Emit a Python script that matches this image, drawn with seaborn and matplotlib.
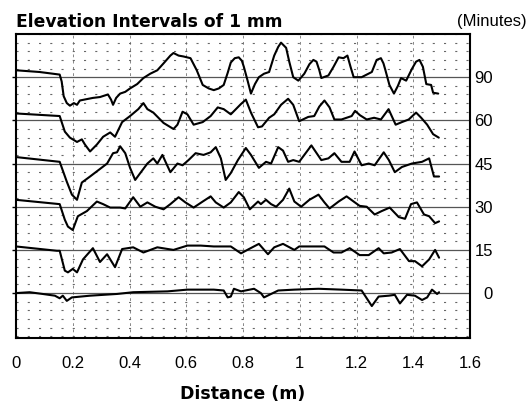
import pandas as pd
import seaborn as sns
import matplotlib.pyplot as plt
from matplotlib.ticker import MultipleLocator

# elevation profiles (mm relative to each baseline) vs distance (m)
minutes = [0, 15, 30, 45, 60, 90]
offsets = [0, 5, 10, 15, 20, 25]

x_90 = [0, 0.083, 0.154, 0.161, 0.168, 0.179, 0.190, 0.204, 0.215, 0.225, 0.271, 0.296, 0.324, 0.335,
        0.342, 0.353, 0.367, 0.385, 0.402, 0.427, 0.449, 0.473, 0.498, 0.520, 0.544, 0.555, 0.573, 0.590,
        0.615, 0.637, 0.658, 0.679, 0.697, 0.715, 0.732, 0.746, 0.757, 0.771, 0.785, 0.796, 0.803, 0.817,
        0.828, 0.842, 0.856, 0.874, 0.892, 0.910, 0.924, 0.934, 0.952, 0.963, 0.977, 0.995, 1.016, 1.034,
        1.048, 1.059, 1.069, 1.076, 1.101, 1.119, 1.137, 1.154, 1.168, 1.179, 1.190, 1.218, 1.236, 1.254,
        1.271, 1.286, 1.295, 1.302, 1.316, 1.332, 1.346, 1.357, 1.375, 1.396, 1.410, 1.422, 1.434, 1.446,
        1.463, 1.470, 1.488]
y_90 = [0.8, 0.6, 0.3, -0.5, -2.2, -3.0, -3.3, -3.0, -3.2, -2.7, -2.4, -2.3, -2.0, -2.6,
        -3.2, -2.4, -1.9, -1.7, -1.3, -0.8, -0.1, 0.4, 0.8, 1.6, 2.5, 2.8, 2.5, 2.4,
        2.2, 0.8, -0.9, -1.3, -1.5, -1.3, -0.9, 0.5, 1.7, 2.2, 2.3, 1.9, 1.2, -0.5,
        -1.9, -0.8, 0.0, 0.4, 0.6, 2.5, 3.5, 4.0, 3.4, 1.8, 0.0, -0.4, 0.4, 1.5,
        2.0, 1.8, 0.8, -0.1, 0.2, 1.2, 2.3, 2.2, 2.5, 1.2, 0.0, 0.0, 0.3, 0.6,
        2.0, 2.2, 1.6, 0.8, -0.9, -1.9, -1.0, -0.1, -0.4, 1.0, 1.8, 2.0, 1.2, -0.8,
        -0.9, -1.8, -1.9]

x_60 = [0, 0.154, 0.172, 0.190, 0.215, 0.232, 0.243, 0.261, 0.285, 0.307, 0.332, 0.349, 0.374, 0.402,
        0.431, 0.449, 0.463, 0.484, 0.520, 0.555, 0.569, 0.587, 0.604, 0.626, 0.658, 0.686, 0.711, 0.732,
        0.757, 0.793, 0.810, 0.828, 0.853, 0.867, 0.892, 0.910, 0.934, 0.959, 0.977, 0.998, 1.030, 1.051,
        1.069, 1.087, 1.105, 1.122, 1.147, 1.183, 1.195, 1.212, 1.236, 1.262, 1.286, 1.313, 1.338, 1.360,
        1.384, 1.410, 1.428, 1.449, 1.470, 1.490]
y_60 = [0.8, 0.5, -1.3, -2.0, -2.5, -2.2, -2.8, -3.6, -2.8, -1.9, -1.4, -1.9, -0.2, 0.5,
        1.3, 2.0, 1.3, 0.9, -0.3, -1.0, -0.5, 1.0, 0.7, -0.5, -0.2, 0.5, 1.5, 1.3,
        0.7, 1.9, 2.4, 0.9, -0.8, -0.7, 0.3, 0.7, 1.8, 2.5, 1.8, -0.1, 0.4, 0.5,
        1.6, 2.3, 1.5, 0.1, 0.1, 0.5, 1.1, 0.6, 0.1, 0.3, 0.1, 1.3, -0.5, -0.2,
        0.1, 0.9, 0.3, -0.5, -1.6, -2.0]

x_45 = [0, 0.154, 0.179, 0.197, 0.215, 0.232, 0.261, 0.289, 0.321, 0.342, 0.356, 0.367, 0.385, 0.402,
        0.420, 0.438, 0.463, 0.484, 0.498, 0.516, 0.527, 0.544, 0.569, 0.587, 0.608, 0.633, 0.661, 0.686,
        0.704, 0.722, 0.739, 0.757, 0.782, 0.810, 0.828, 0.856, 0.881, 0.899, 0.924, 0.941, 0.959, 0.977,
        0.998, 1.041, 1.076, 1.101, 1.122, 1.147, 1.176, 1.193, 1.218, 1.243, 1.264, 1.296, 1.314, 1.335,
        1.360, 1.395, 1.431, 1.456, 1.473, 1.491]
y_45 = [0.75, 0.2, -2.1, -3.6, -4.2, -2.2, -1.5, -0.8, 0.0, 1.2, 1.3, 2.0, 1.2, -0.5,
        -1.9, -1.1, 0.0, 0.6, 0.0, 1.0, 0.2, -1.0, 0.0, -0.2, 0.4, 1.2, 1.0, 1.3,
        1.9, 0.6, -1.9, -1.1, 0.4, 1.8, 1.0, -0.5, 0.2, 0.0, 1.9, 1.5, 0.2, 0.4,
        0.2, 2.1, 0.4, 0.6, 1.2, 0.2, 0.2, 1.4, -0.2, 0.0, -0.2, 1.3, 0.4, -1.0,
        -0.4, 0.0, 0.2, 0.6, -1.5, -1.5]

x_30 = [0, 0.154, 0.172, 0.183, 0.200, 0.218, 0.250, 0.285, 0.307, 0.332, 0.367, 0.385, 0.413, 0.438,
        0.463, 0.491, 0.520, 0.544, 0.573, 0.597, 0.626, 0.658, 0.686, 0.704, 0.732, 0.757, 0.785, 0.803,
        0.824, 0.853, 0.863, 0.881, 0.899, 0.917, 0.941, 0.963, 0.981, 1.005, 1.034, 1.066, 1.087, 1.105,
        1.137, 1.165, 1.190, 1.211, 1.236, 1.264, 1.289, 1.317, 1.349, 1.371, 1.392, 1.413, 1.438, 1.456,
        1.477, 1.491]
y_30 = [0.8, 0.3, -1.5, -2.3, -2.7, -1.1, -0.5, 0.6, 0.3, -0.1, -0.1, -0.2, 1.1, 0.0,
        0.5, 0.0, -0.3, 0.3, 1.1, 0.5, -0.1, 0.6, 1.2, 0.5, -0.1, 0.5, 1.7, 1.1,
        -0.3, 0.6, 0.3, 0.8, 0.3, 0.0, 0.8, 2.1, 0.6, 0.0, 0.8, 1.4, 0.5, -0.2,
        0.6, 1.2, 0.6, 0.1, 0.0, -0.9, -0.5, -0.1, -1.2, -1.4, 0.3, 0.5, -0.9, -1.1,
        -1.9, -1.7]

x_15 = [0, 0.144, 0.154, 0.172, 0.183, 0.200, 0.215, 0.236, 0.271, 0.296, 0.321, 0.349, 0.374, 0.413,
        0.449, 0.498, 0.555, 0.604, 0.651, 0.697, 0.757, 0.793, 0.821, 0.856, 0.888, 0.910, 0.941, 0.981,
        0.998, 1.048, 1.087, 1.119, 1.147, 1.176, 1.211, 1.243, 1.278, 1.296, 1.324, 1.353, 1.385, 1.406,
        1.431, 1.456, 1.477, 1.491]
y_15 = [0.4, -0.1, -0.1, -2.4, -2.6, -2.2, -2.6, -1.1, 0.2, -1.4, -0.5, -2.0, 0.1, 0.3,
        -0.3, 0.3, 0.0, 0.5, 0.5, 0.4, 0.4, -0.4, 0.1, 0.7, -0.5, 0.3, 0.7, 0.0,
        0.4, 0.4, 0.4, -0.3, -0.3, 0.2, -0.6, -0.6, 0.2, -0.4, -0.3, 0.1, -1.3, -1.3,
        -1.9, -1.1, 0.0, -0.9]

x_0 = [0, 0.048, 0.094, 0.137, 0.154, 0.165, 0.179, 0.197, 0.261, 0.356, 0.413, 0.534, 0.604, 0.697,
       0.732, 0.746, 0.757, 0.768, 0.793, 0.839, 0.863, 0.874, 0.899, 0.924, 0.981, 1.066, 1.147, 1.218,
       1.236, 1.254, 1.278, 1.314, 1.335, 1.353, 1.378, 1.406, 1.431, 1.449, 1.466, 1.484, 1.491]
y_0 = [0.0, 0.1, -0.1, -0.3, -0.6, -0.3, -0.9, -0.5, -0.3, -0.1, 0.1, 0.2, 0.4, 0.4,
       0.3, -0.5, -0.4, 0.5, 0.2, 0.5, 0.0, -0.5, -0.1, 0.3, 0.4, 0.5, 0.4, 0.3,
       -0.6, -1.5, -0.4, -0.3, -0.2, -1.2, -0.2, -0.3, -0.8, -0.5, 0.4, -0.1, 0.1]

xs = [x_0, x_15, x_30, x_45, x_60, x_90]
ys = [y_0, y_15, y_30, y_45, y_60, y_90]

frames = []
for m, off, xv, yv in zip(minutes, offsets, xs, ys):
    frames.append(pd.DataFrame({'distance': xv, 'elev': [v + off for v in yv], 'minutes': m}))
df = pd.concat(frames, ignore_index=True)

sns.set_style('white')
plt.rcParams['font.family'] = ['Liberation Sans', 'DejaVu Sans']
plt.rcParams['lines.scale_dashes'] = False
plt.rcParams['text.color'] = 'black'
plt.rcParams['axes.labelcolor'] = 'black'
plt.rcParams['xtick.color'] = 'black'
plt.rcParams['ytick.color'] = 'black'

fig = plt.figure(figsize=(5.28, 4.03), dpi=100)
ax = fig.add_axes([16 / 528, 65 / 403, 454 / 528, 304 / 403])

# reference lines at each baseline
for off in offsets:
    ax.axhline(off, color='#555555', lw=0.9, zorder=1)

sns.lineplot(data=df, x='distance', y='elev', hue='minutes', palette=['black'] * 6,
             estimator=None, sort=False, legend=False, lw=1.5, ax=ax, zorder=3)

ax.set_xlim(0, 1.6)
ax.set_ylim(-5.2, 30)
ax.set_xticks([0, 0.2, 0.4, 0.6, 0.8, 1.0, 1.2, 1.4, 1.6])
ax.set_xticklabels(['0', '0.2', '0.4', '0.6', '0.8', '1', '1.2', '1.4', '1.6'])
ax.set_yticks(offsets)
ax.set_yticklabels([str(m) for m in minutes])
ax.yaxis.set_minor_locator(MultipleLocator(1))

ax.grid(which='minor', axis='y', ls=(0, (1.5, 6.6)), color='#666666', lw=0.8)
ax.grid(which='major', axis='x', ls=(0, (2, 2.5)), color='#888888', lw=0.7)
ax.set_axisbelow(True)

ax.tick_params(axis='y', which='major', left=True, right=False, labelleft=False, labelright=True,
               direction='out', length=3, width=1, pad=13.5, labelsize=12)
ax.tick_params(axis='x', which='major', direction='out', length=5, width=1, pad=8, labelsize=12)
ax.tick_params(which='minor', length=0)
for t in ax.yaxis.get_major_ticks():
    t.label2.set_horizontalalignment('right')

for s in ax.spines.values():
    s.set_visible(True)
    s.set_color('black')
    s.set_linewidth(1.5)

ax.set_xlabel('Distance (m)', fontsize=12.5, fontweight='bold', family='DejaVu Sans', labelpad=10)
ax.set_ylabel('')

fig.text(16 / 528, 1 - 27 / 403, 'Elevation Intervals of 1 mm', fontsize=12.3,
         fontweight='bold', family='DejaVu Sans', ha='left', va='baseline')
fig.text(527 / 528, 1 - 26 / 403, '(Minutes)', fontsize=12, ha='right', va='baseline')

fig.savefig('out.png', dpi=100)
